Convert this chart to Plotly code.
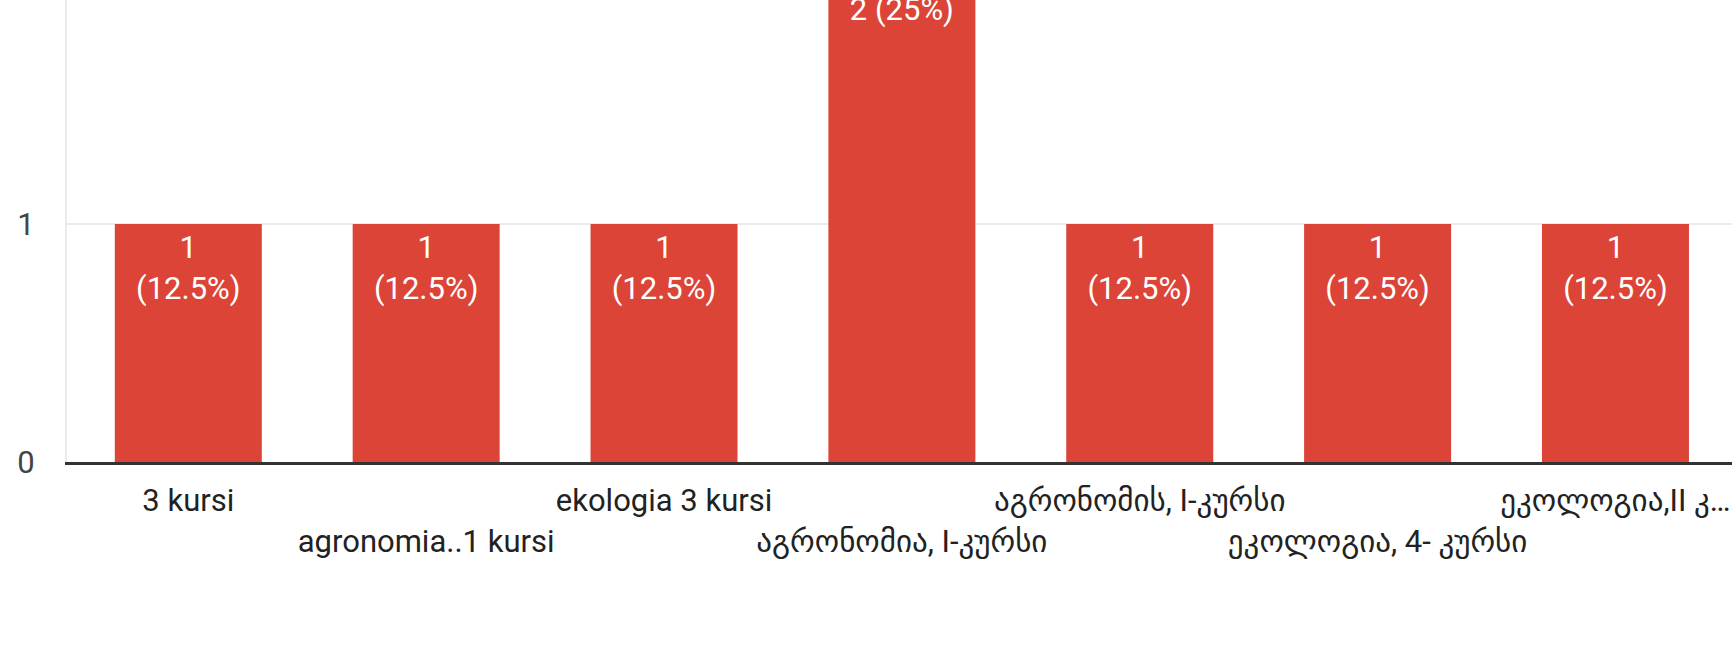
import plotly.graph_objects as go

categories = [
    "3 kursi",
    "agronomia..1 kursi",
    "ekologia 3 kursi",
    "აგრონომია, I-კურსი",
    "აგრონომის, I-კურსი",
    "ეკოლოგია, 4- კურსი",
    "ეკოლოგია,II კ…",
]
counts = [1, 1, 1, 2, 1, 1, 1]
bar_labels = ["1<br>(12.5%)", "1<br>(12.5%)", "1<br>(12.5%)", "2 (25%)",
              "1<br>(12.5%)", "1<br>(12.5%)", "1<br>(12.5%)"]
y_ticks = [0, 1]
y_top = 1.941  # visible top of value axis (tallest bar is cut off)

# staggered category labels (odd ones on second row)
tick_text = [c if i % 2 == 0 else "<br>" + c for i, c in enumerate(categories)]
xpos = list(range(len(categories)))

FONT = "Roboto, 'DejaVu Sans', sans-serif"
RED = "#db4437"

fig = go.Figure()
fig.add_trace(go.Bar(
    x=xpos, y=counts, marker=dict(color=RED, line=dict(width=0)),
    hoverinfo="skip", showlegend=False,
))
fig.add_trace(go.Scatter(
    x=xpos, y=counts, mode="markers+text", text=bar_labels,
    textposition="bottom center",
    marker=dict(size=16, opacity=0, color=RED),
    textfont=dict(family=FONT, size=31, color="white"),
    cliponaxis=True, hoverinfo="skip", showlegend=False,
))

fig.update_layout(
    width=1732, height=659,
    margin=dict(l=67, r=0, t=0, b=197, pad=0, autoexpand=False),
    paper_bgcolor="white", plot_bgcolor="white",
    bargap=0.382,
    font=dict(family=FONT),
    xaxis=dict(
        range=[-0.51, len(categories) - 0.51],
        tickmode="array", tickvals=xpos, ticktext=tick_text,
        tickfont=dict(family=FONT, size=31, color="#222222"),
        tickangle=0, automargin=False,
        showgrid=False, zeroline=False,
        showline=True, linecolor="#333333", linewidth=3,
        ticks="", ticklabelstandoff=9,
        fixedrange=True,
    ),
    yaxis=dict(
        range=[0, y_top],
        tickmode="array", tickvals=y_ticks, ticktext=[str(v) for v in y_ticks],
        tickfont=dict(family=FONT, size=31, color="#444444"),
        automargin=False,
        showgrid=True, gridcolor="#ebebeb", gridwidth=2,
        zeroline=False,
        showline=True, linecolor="#ebebeb", linewidth=2,
        ticks="", ticklabelstandoff=24,
        fixedrange=True,
    ),
)

fig.write_html(
    "out.html",
    config={"displayModeBar": False},
    post_script="document.body.style.margin='0';document.body.style.overflow='hidden';",
)
